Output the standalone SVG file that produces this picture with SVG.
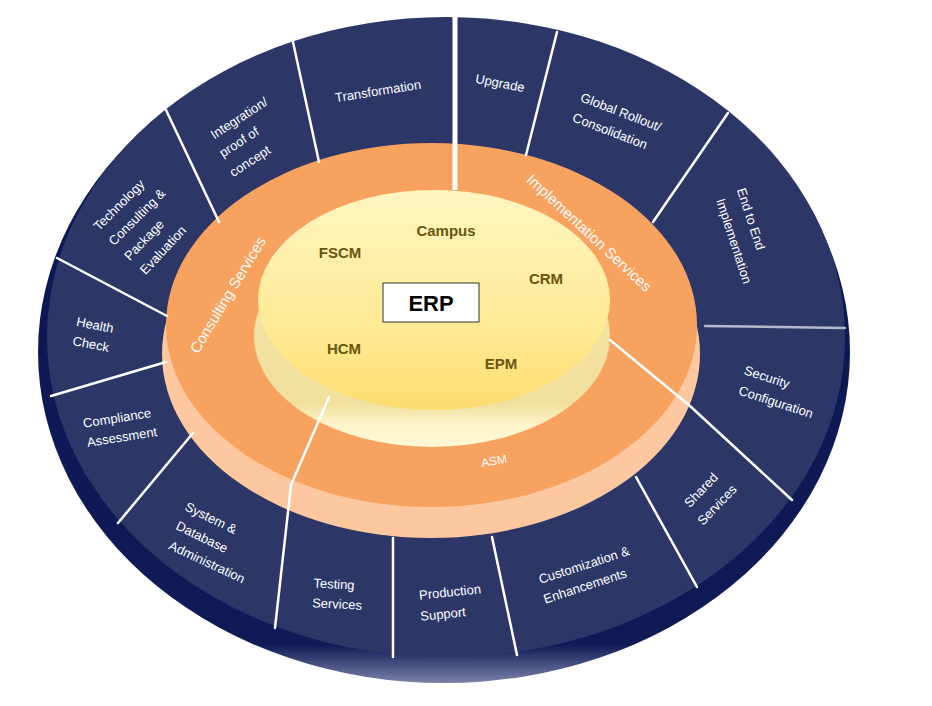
<svg xmlns="http://www.w3.org/2000/svg" width="932" height="706" viewBox="0 0 932 706">
<style>
.w{font-family:"Liberation Sans",Arial,sans-serif;font-size:13px;fill:#ffffff;text-anchor:middle}
.r{font-family:"Liberation Sans",Arial,sans-serif;font-size:15px;fill:#ffffff;text-anchor:middle}
.y{font-family:"Liberation Sans",Arial,sans-serif;font-size:15px;font-weight:bold;fill:#6a5511;text-anchor:middle}
.e{font-family:"Liberation Sans",Arial,sans-serif;font-size:22px;font-weight:bold;fill:#000000;text-anchor:middle}
.d{stroke:#ffffff;stroke-width:2.5;fill:none;stroke-linecap:round;stroke-linejoin:round}
</style>
<defs>
<linearGradient id="navySide" gradientUnits="userSpaceOnUse" x1="0" y1="22" x2="0" y2="684">
<stop offset="0" stop-color="#0c1752"/>
<stop offset="0.94" stop-color="#0f1a56"/>
<stop offset="1" stop-color="#7c84aa"/>
</linearGradient>
<linearGradient id="yelFace" gradientUnits="userSpaceOnUse" x1="0" y1="190" x2="0" y2="410">
<stop offset="0" stop-color="#fff5c0"/>
<stop offset="0.6" stop-color="#ffeb98"/>
<stop offset="1" stop-color="#fddc6e"/>
</linearGradient>
<linearGradient id="yelSide" gradientUnits="userSpaceOnUse" x1="0" y1="300" x2="0" y2="447">
<stop offset="0" stop-color="#f3e2a4"/>
<stop offset="0.7" stop-color="#f1df9c"/>
<stop offset="0.85" stop-color="#fff5cc"/>
<stop offset="1" stop-color="#fff7d6"/>
</linearGradient>
</defs>
<rect x="0" y="0" width="932" height="706" fill="#ffffff"/>

<g id="disk">
<ellipse cx="444" cy="352" rx="406" ry="331" fill="url(#navySide)"/>
<ellipse cx="446" cy="337" rx="399" ry="320" fill="#2c3768"/>
<ellipse cx="431" cy="354" rx="269" ry="184" fill="#fdc89f"/>
<ellipse cx="431.5" cy="325" rx="265.5" ry="182" fill="#f8a260"/>
<ellipse cx="432" cy="336" rx="178" ry="111" fill="url(#yelSide)"/>
<ellipse cx="434" cy="300" rx="176" ry="110" fill="url(#yelFace)"/>
</g>

<g id="connectors">
<line x1="455" y1="17" x2="455" y2="190" stroke="#ffffff" stroke-width="5"/>
<line class="d" x1="293" y1="42" x2="319" y2="162"/>
<line class="d" x1="166" y1="110" x2="219" y2="222"/>
<line class="d" x1="57" y1="258" x2="167" y2="316"/>
<line class="d" x1="51" y1="396" x2="166" y2="362"/>
<line class="d" x1="193" y1="433" x2="118" y2="523"/>
<polyline class="d" points="329,397 291,485 275,628"/>
<line class="d" x1="393" y1="538" x2="393" y2="657"/>
<line class="d" x1="492" y1="537" x2="517" y2="655"/>
<line class="d" x1="636" y1="477" x2="697" y2="587"/>
<polyline class="d" points="610,340 690,406 792,500"/>
<line class="d" x1="705" y1="326" x2="845" y2="328" stroke-opacity="0.65"/>
<line class="d" x1="728" y1="113" x2="653" y2="222"/>
<line class="d" x1="557" y1="32" x2="526" y2="155"/>
</g>

<g id="transformation"><text class="w" transform="translate(378,91) rotate(-9)" y="4.5">Transformation</text></g>
<g id="integration">
<text class="w" transform="translate(239,118) rotate(-33)" y="4.5">Integration/</text>
<text class="w" transform="translate(239,142) rotate(-33)" y="4.5">proof of</text>
<text class="w" transform="translate(250,161) rotate(-33)" y="4.5">concept</text>
</g>
<g id="technology">
<text class="w" transform="translate(119,205) rotate(-45)" y="4.5">Technology</text>
<text class="w" transform="translate(137,217) rotate(-45)" y="4.5">Consulting &amp;</text>
<text class="w" transform="translate(144,240) rotate(-46)" y="4.5">Package</text>
<text class="w" transform="translate(163,250) rotate(-47)" y="4.5">Evaluation</text>
</g>
<g id="health">
<text class="w" transform="translate(95,325) rotate(11)" y="4.5">Health</text>
<text class="w" transform="translate(91,344) rotate(11)" y="4.5">Check</text>
</g>
<g id="compliance">
<text class="w" transform="translate(117,418) rotate(-9)" y="4.5">Compliance</text>
<text class="w" transform="translate(122,437) rotate(-9)" y="4.5">Assessment</text>
</g>
<g id="system">
<text class="w" transform="translate(211,518) rotate(26)" y="4.5">System &amp;</text>
<text class="w" transform="translate(202,537) rotate(26)" y="4.5">Database</text>
<text class="w" transform="translate(207,562) rotate(25)" y="4.5">Administration</text>
</g>
<g id="testing">
<text class="w" transform="translate(334,584) rotate(3)" y="4.5">Testing</text>
<text class="w" transform="translate(337,604) rotate(3)" y="4.5">Services</text>
</g>
<g id="production">
<text class="w" transform="translate(450,592) rotate(-6)" y="4.5">Production</text>
<text class="w" transform="translate(443,614) rotate(-6)" y="4.5">Support</text>
</g>
<g id="customization">
<text class="w" transform="translate(584,565) rotate(-18)" y="4.5">Customization &amp;</text>
<text class="w" transform="translate(585,586) rotate(-18)" y="4.5">Enhancements</text>
</g>
<g id="shared">
<text class="w" transform="translate(701,490) rotate(-46)" y="4.5">Shared</text>
<text class="w" transform="translate(717,505) rotate(-46)" y="4.5">Services</text>
</g>
<g id="security">
<text class="w" transform="translate(767,377) rotate(18)" y="4.5">Security</text>
<text class="w" transform="translate(776,402) rotate(18)" y="4.5">Configuration</text>
</g>
<g id="endtoend">
<text class="w" transform="translate(751,219) rotate(72)" y="4.5">End to End</text>
<text class="w" transform="translate(734,241) rotate(72)" y="4.5">Implementation</text>
</g>
<g id="global">
<text class="w" transform="translate(621,112) rotate(21)" y="4.5">Global Rollout/</text>
<text class="w" transform="translate(610,131) rotate(21)" y="4.5">Consolidation</text>
</g>
<g id="upgrade"><text class="w" transform="translate(500,83) rotate(11)" y="4.5">Upgrade</text></g>

<g id="consulting-services"><text class="r" transform="translate(228,295) rotate(-59)" y="5">Consulting Services</text></g>
<g id="implementation-services"><text class="r" transform="translate(589,233) rotate(43)" y="5">Implementation Services</text></g>
<g id="asm"><text class="w" style="font-size:12px" transform="translate(494,461) rotate(-10)" y="4">ASM</text></g>

<g id="campus"><text class="y" x="446" y="236">Campus</text></g>
<g id="fscm"><text class="y" x="340" y="258">FSCM</text></g>
<g id="crm"><text class="y" x="546" y="284">CRM</text></g>
<g id="hcm"><text class="y" x="344" y="354">HCM</text></g>
<g id="epm"><text class="y" x="501" y="369">EPM</text></g>
<g id="erp">
<rect x="383" y="283" width="96" height="39" fill="#ffffff" stroke="#333333" stroke-width="1"/>
<text class="e" x="431" y="311">ERP</text>
</g>
</svg>
